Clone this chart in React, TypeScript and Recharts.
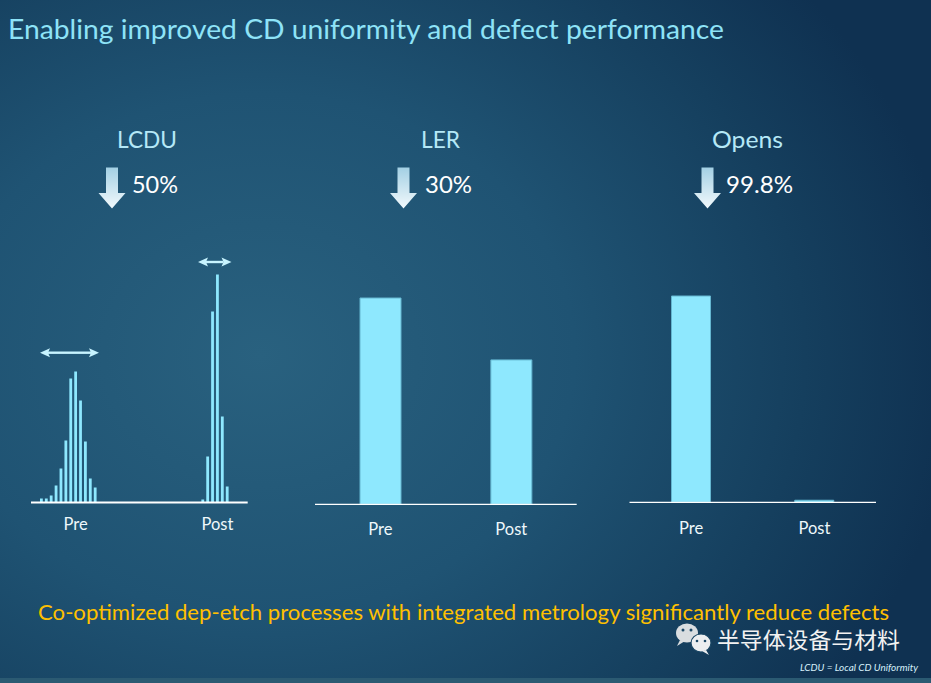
import React from 'react';
import { BarChart, Bar, XAxis, YAxis } from 'recharts';

// LCDU histogram counts (bar heights)
const LCDU_PRE = [4, 4, 7, 17, 34, 62, 124, 131, 102, 61, 24, 15];
const LCDU_POST = [3, 46, 191, 228, 86, 16];
const LCDU_GAP = 21; // empty bins between the two distributions
const LCDU_TICKS: Record<number, string> = { 7: 'Pre', 36: 'Post' };

const CATEGORIES = ['Pre', 'Post'];
const LER_VALUES = [100, 70];
const OPENS_VALUES = [100, 1];

const PANEL_TITLES = ['LCDU', 'LER', 'Opens'];
const REDUCTIONS = ['50%', '30%', '99.8%'];

const lcduData = [...LCDU_PRE, ...new Array(LCDU_GAP).fill(0), ...LCDU_POST].map((count, i) => ({ bin: i, count }));
const lerData = CATEGORIES.map((name, i) => ({ name, val: LER_VALUES[i] }));
const opensData = CATEGORIES.map((name, i) => ({ name, val: OPENS_VALUES[i] }));

const BAR_FILL = '#8ee8fe';
const FONT = 'Lato, "Open Sans", sans-serif';
const tickStyle = { fill: '#eef8fb', fontSize: 16.5, fontFamily: FONT };

const DownArrow: React.FC<{ cx: number }> = ({ cx }) => {
  const top = 167.5, headY = 193, tip = 208.5, sw = 6, hw = 13.5;
  const d = `M${cx - sw},${top} L${cx + sw},${top} L${cx + sw},${headY} L${cx + hw},${headY} L${cx},${tip} L${cx - hw},${headY} L${cx - sw},${headY} Z`;
  return <path d={d} fill="url(#arrowGrad)" />;
};

const DoubleArrow: React.FC<{ x1: number; x2: number; y: number }> = ({ x1, x2, y }) => (
  <g fill="#c8f4ff" stroke="none">
    <rect x={x1 + 8} y={y - 1.2} width={x2 - x1 - 16} height={2.4} />
    <path d={`M${x1},${y} L${x1 + 10},${y - 4.5} L${x1 + 8},${y} L${x1 + 10},${y + 4.5} Z`} />
    <path d={`M${x2},${y} L${x2 - 10},${y - 4.5} L${x2 - 8},${y} L${x2 - 10},${y + 4.5} Z`} />
  </g>
);

export default function App() {
  const headerX = [117, 421, 712];
  const headerW = [60, 39, 71];
  const arrowX = [112, 403.5, 707.5];
  const pctX = [132, 425, 726];
  const pctW = [46, 47, 67];

  return (
    <div
      style={{
        position: 'absolute',
        left: 0,
        top: 0,
        width: 931,
        height: 683,
        overflow: 'hidden',
        background:
          'radial-gradient(ellipse 75% 85% at 28% 52%, #29617f 0%, #1f5373 45%, #153f5e 78%, #0f3151 100%)',
      }}
    >
      <svg width={931} height={683} style={{ position: 'absolute', left: 0, top: 0 }}>
        <defs>
          <linearGradient id="arrowGrad" x1="0" y1="0" x2="0" y2="1">
            <stop offset="0%" stopColor="#a3d0e4" />
            <stop offset="100%" stopColor="#f2f9fc" />
          </linearGradient>
        </defs>
        <rect x={0} y={678} width={931} height={5} fill="#2b5a72" />
        <text x={8} y={39} fontSize={27} fill="#8ee3f7" fontFamily={FONT} textLength={716} lengthAdjust="spacingAndGlyphs">
          Enabling improved CD uniformity and defect performance
        </text>
        {PANEL_TITLES.map((t, i) => (
          <text key={t} x={headerX[i]} y={148} fontSize={23} fill="#b5e8f7" fontFamily={FONT} textLength={headerW[i]} lengthAdjust="spacingAndGlyphs">
            {t}
          </text>
        ))}
        {REDUCTIONS.map((r, i) => (
          <g key={r}>
            <DownArrow cx={arrowX[i]} />
            <text x={pctX[i]} y={193} fontSize={23} fill="#ffffff" fontFamily={FONT} textLength={pctW[i]} lengthAdjust="spacingAndGlyphs">
              {r}
            </text>
          </g>
        ))}
        <DoubleArrow x1={40} x2={99} y={352.7} />
        <DoubleArrow x1={198} x2={231.5} y={262} />
        <text x={38} y={620} fontSize={21} fill="#ffc000" fontFamily={FONT} textLength={851} lengthAdjust="spacingAndGlyphs">
          Co-optimized dep-etch processes with integrated metrology significantly reduce defects
        </text>
        {/* WeChat watermark */}
        <g>
          <ellipse cx={687} cy={633} rx={11} ry={9.5} fill="#d9dde0" />
          <path d="M680,640 L677,646 L685,641 Z" fill="#d9dde0" />
          <ellipse cx={701} cy={643} rx={10} ry={9} fill="#eceef0" stroke="#1c4866" strokeWidth={1.2} />
          <path d="M706,650 L709,655 L702,651 Z" fill="#eceef0" />
          <circle cx={683} cy={630} r={1.5} fill="#1c4866" />
          <circle cx={691} cy={630} r={1.5} fill="#1c4866" />
          <circle cx={697} cy={641} r={1.3} fill="#1c4866" />
          <circle cx={705} cy={641} r={1.3} fill="#1c4866" />
        </g>
        <text x={717} y={648} fontSize={22} fill="#f2f2f2" fontFamily='"Noto Sans CJK SC", sans-serif' textLength={183} lengthAdjust="spacingAndGlyphs">
          半导体设备与材料
        </text>
        <text x={800} y={671} fontSize={9} fontStyle="italic" fill="#d6f0fa" fontFamily={FONT} textLength={118} lengthAdjust="spacingAndGlyphs">
          LCDU = Local CD Uniformity
        </text>
      </svg>

      {/* LCDU histogram */}
      <div style={{ position: 'absolute', left: 21, top: 250 }}>
        <BarChart width={240} height={300} data={lcduData} margin={{ top: 12.5, left: 10, right: 13.3, bottom: 17.5 }}>
          <XAxis
            dataKey="bin"
            type="category"
            interval={0}
            tickLine={false}
            axisLine={{ stroke: '#ffffff', strokeWidth: 2 }}
            tick={tickStyle}
            tickMargin={10}
            padding={{ left: 8, right: 18 }}
            tickFormatter={(v: number) => LCDU_TICKS[v] ?? ''}
          />
          <YAxis hide domain={[0, 240]} />
          <Bar dataKey="count" fill={BAR_FILL} barSize={2.8} isAnimationActive={false} />
        </BarChart>
      </div>

      {/* LER */}
      <div style={{ position: 'absolute', left: 305, top: 288 }}>
        <BarChart width={282} height={260} data={lerData} margin={{ top: 10, left: 10, right: 10.3, bottom: 13.7 }}>
          <XAxis
            dataKey="name"
            tickLine={false}
            axisLine={{ stroke: '#ffffff', strokeWidth: 1.2 }}
            tick={tickStyle}
            tickMargin={13}
          />
          <YAxis hide domain={[0, 100]} />
          <Bar dataKey="val" fill={BAR_FILL} stroke="#64b6d0" strokeWidth={1} barSize={41} isAnimationActive={false} />
        </BarChart>
      </div>

      {/* Opens */}
      <div style={{ position: 'absolute', left: 620, top: 286 }}>
        <BarChart width={266} height={260} data={opensData} margin={{ top: 10, left: 9.5, right: 10, bottom: 13.7 }}>
          <XAxis
            dataKey="name"
            tickLine={false}
            axisLine={{ stroke: '#ffffff', strokeWidth: 1.2 }}
            tick={tickStyle}
            tickMargin={14}
          />
          <YAxis hide domain={[0, 100]} />
          <Bar dataKey="val" fill={BAR_FILL} stroke="#64b6d0" strokeWidth={1} barSize={39} isAnimationActive={false} />
        </BarChart>
      </div>
    </div>
  );
}
